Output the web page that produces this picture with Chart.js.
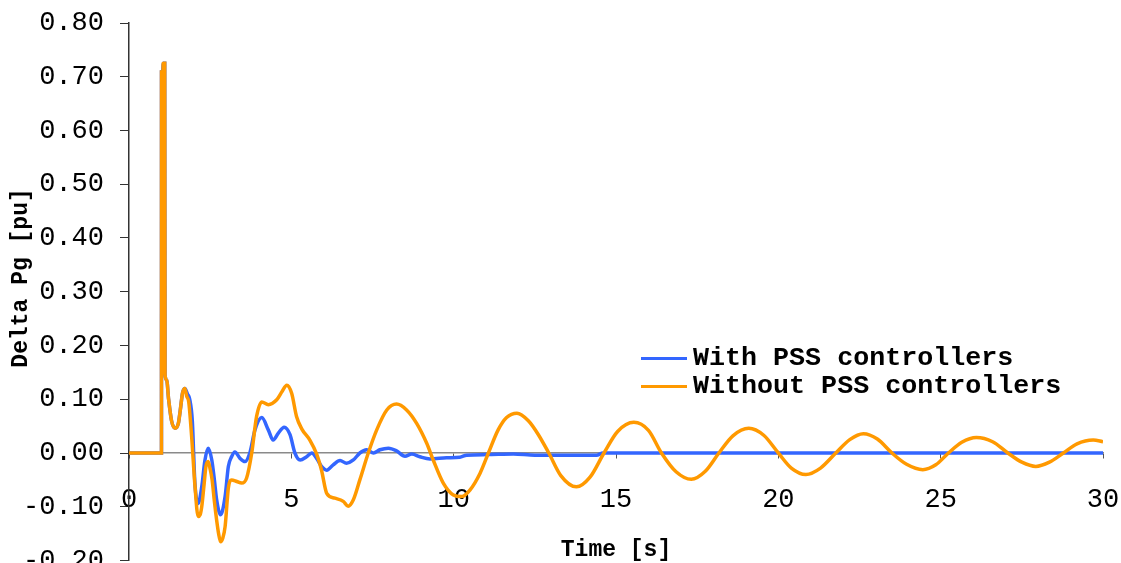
<!DOCTYPE html>
<html lang="en">
<head>
    <meta charset="UTF-8">
    <title>Delta Pg</title>
    <script src="https://cdn.jsdelivr.net/npm/chart.js"></script>
    <style>
        html, body {
            margin: 0;
            padding: 0;
            background: #fff;
            overflow: hidden;
        }
        #wrap {
            position: relative;
            width: 1121px;
            height: 600px;
        }
        #legend {
            position: absolute;
            left: 641px;
            top: 344px;
            font-family: 'Liberation Mono', 'Courier New', monospace;
            font-weight: bold;
            font-size: 26.7px;
            color: #000;
        }
        .row {
            display: flex;
            align-items: center;
            height: 28px;
            white-space: nowrap;
        }
        .swatch {
            display: inline-block;
            width: 46px;
            height: 3px;
            margin-right: 6px;
        }
    </style>
</head>
<body>
<div id="wrap">
    <canvas id="chart" width="1121" height="600"></canvas>
    <div id="legend"></div>
</div>

<script>
    const seriesNames = ['With PSS controllers', 'Without PSS controllers'];
    const seriesColors = ['#3366ff', '#ff9900'];

    const yTicks = [-0.2, -0.1, 0, 0.1, 0.2, 0.3, 0.4, 0.5, 0.6, 0.7, 0.8];
    const xTicks = [0, 5, 10, 15, 20, 25, 30];

    // with PSS
    const timeWith = [0, 1.0, 1.001, 1.04, 1.05, 1.10, 1.11, 1.16, 1.22, 1.31, 1.42, 1.52, 1.58, 1.65, 1.72,
        1.80, 1.87, 1.95, 2.03, 2.13, 2.24, 2.34, 2.44, 2.55, 2.63, 2.70, 2.82, 2.96, 3.06, 3.16, 3.26,
        3.42, 3.57, 3.73, 3.88, 4.09, 4.29, 4.44, 4.60, 4.78, 4.96, 5.11, 5.27, 5.47, 5.63, 5.78, 5.93,
        6.09, 6.29, 6.50, 6.70, 6.91, 7.11, 7.32, 7.53, 7.73, 7.99, 8.24, 8.50, 8.71, 8.96, 9.27, 9.78,
        10.19, 10.40, 11.02, 11.84, 12.5, 13.5, 14.4, 14.6, 30];
    const valuesWith = [0, 0, 0.709, 0.709, 0.725, 0.725, 0.145, 0.136, 0.10, 0.06, 0.046, 0.055, 0.08, 0.112, 0.12,
        0.11, 0.10, 0.06, -0.056, -0.094, -0.063, -0.013, 0.009, -0.013, -0.05, -0.087, -0.115, -0.081, -0.025, -0.007, 0.002,
        -0.01, -0.016, 0.002, 0.043, 0.066, 0.043, 0.024, 0.037, 0.048, 0.034, 0.0, -0.013, -0.007, 0, -0.01, -0.025,
        -0.032, -0.022, -0.014, -0.019, -0.013, 0, 0.006, 0, 0.006, 0.009, 0.004, -0.006, -0.002, -0.007, -0.011, -0.009,
        -0.008, -0.004, -0.003, -0.002, -0.004, -0.004, -0.004, 0, 0];

    // without PSS
    const timeWithout = [0, 1.0, 1.001, 1.03, 1.035, 1.045, 1.05, 1.10, 1.11, 1.16, 1.22, 1.31, 1.42, 1.52, 1.58, 1.65, 1.72,
        1.78, 1.84, 1.93, 2.03, 2.13, 2.19, 2.24, 2.31, 2.37, 2.44, 2.50, 2.56, 2.63, 2.70, 2.76, 2.82,
        2.89, 2.96, 3.06, 3.16, 3.32, 3.47, 3.62, 3.78, 3.93, 4.09, 4.29, 4.55, 4.72, 4.86, 5.01, 5.16,
        5.32, 5.57, 5.78, 5.93, 6.09, 6.34, 6.60, 6.75, 6.91, 7.11, 7.37, 7.63, 7.94, 8.24, 8.55, 8.86,
        9.17, 9.37, 9.68, 9.99, 10.25, 10.50, 10.81, 11.07, 11.37, 11.63, 11.95, 12.30, 12.60, 12.93, 13.30,
        13.78, 14.20, 14.63, 15.05, 15.55, 16.00, 16.40, 16.85, 17.32, 17.75, 18.17, 18.60, 19.09, 19.55,
        20.00, 20.40, 20.85, 21.30, 21.77, 22.20, 22.62, 23.05, 23.50, 23.95, 24.45, 24.85, 25.24, 25.65,
        26.10, 26.60, 27.07, 27.50, 27.93, 28.35, 28.78, 29.20, 29.70, 30.0];
    const valuesWithout = [0, 0, 0.709, 0.709, 0.15, 0.15, 0.725, 0.725, 0.145, 0.136, 0.10, 0.06, 0.046, 0.055, 0.08, 0.112, 0.12,
        0.105, 0.095, 0.03, -0.06, -0.118, -0.115, -0.10, -0.06, -0.025, -0.016, -0.03, -0.05, -0.09, -0.125, -0.15, -0.165,
        -0.158, -0.137, -0.065, -0.05, -0.053, -0.056, -0.047, 0, 0.068, 0.095, 0.09, 0.099, 0.115, 0.126, 0.111, 0.068,
        0.045, 0.024, -0.002, -0.032, -0.075, -0.084, -0.09, -0.099, -0.087, -0.05, 0, 0.043, 0.08, 0.091, 0.08, 0.055,
        0.018, -0.013, -0.056, -0.078, -0.081, -0.069, -0.038, 0, 0.043, 0.066, 0.074, 0.06, 0.035, 0, -0.042,
        -0.063, -0.045, 0, 0.04, 0.057, 0.042, 0, -0.035, -0.049, -0.034, 0, 0.032, 0.046, 0.033,
        0, -0.028, -0.040, -0.028, 0, 0.025, 0.036, 0.026, 0, -0.021, -0.031, -0.022, 0, 0.02,
        0.029, 0.021, 0, -0.017, -0.025, -0.017, 0, 0.017, 0.024, 0.021];

    function toPoints(xs, ys) {
        return xs.map((x, i) => ({ x: x, y: ys[i] }));
    }

    const tickFont = { family: "'Liberation Mono', 'Courier New', monospace", size: 27 };
    const titleFont = { family: "'Liberation Mono', 'Courier New', monospace", size: 23, weight: 'bold' };

    const ctx = document.getElementById('chart').getContext('2d');
    const chart = new Chart(ctx, {
        type: 'line',
        data: {
            datasets: [
                {
                    label: seriesNames[0],
                    data: toPoints(timeWith, valuesWith),
                    borderColor: seriesColors[0],
                    borderWidth: 3.5,
                    pointRadius: 0,
                    cubicInterpolationMode: 'monotone',
                    order: 2
                },
                {
                    label: seriesNames[1],
                    data: toPoints(timeWithout, valuesWithout),
                    borderColor: seriesColors[1],
                    borderWidth: 3.5,
                    pointRadius: 0,
                    cubicInterpolationMode: 'monotone',
                    order: 1
                }
            ]
        },
        options: {
            responsive: false,
            animation: false,
            devicePixelRatio: 1,
            layout: { padding: { top: 23, right: 18, bottom: 39.5, left: 0 } },
            plugins: {
                legend: { display: false },
                tooltip: { enabled: false }
            },
            scales: {
                x: {
                    type: 'linear',
                    position: { y: 0 },
                    min: 0,
                    max: 30,
                    afterBuildTicks: s => { s.ticks = xTicks.map(v => ({ value: v })); },
                    afterFit: s => {
                        s.height = 111;
                        s.paddingLeft = 0;
                        s.paddingRight = 0;
                    },
                    ticks: {
                        font: tickFont,
                        color: '#000',
                        padding: 26,
                        maxRotation: 0,
                        autoSkip: false,
                        callback: v => String(v)
                    },
                    grid: { drawOnChartArea: false, tickLength: 5, color: '#555' },
                    border: { color: '#8a8a8a', width: 1.5 },
                    title: {
                        display: true,
                        text: 'Time [s]',
                        font: titleFont,
                        color: '#000',
                        padding: { top: 19, bottom: 0 }
                    }
                },
                y: {
                    position: 'left',
                    min: -0.2,
                    max: 0.8,
                    afterBuildTicks: s => { s.ticks = yTicks.map(v => ({ value: v })); },
                    afterFit: s => {
                        s.width = 129;
                        s.paddingTop = 0;
                        s.paddingBottom = 0;
                    },
                    ticks: {
                        font: tickFont,
                        color: '#000',
                        padding: 16,
                        autoSkip: false,
                        callback: v => v.toFixed(2)
                    },
                    grid: { drawOnChartArea: false, tickLength: 9, color: '#333' },
                    border: { color: '#333', width: 1.5 },
                    title: {
                        display: true,
                        // leading spaces nudge the rotated title upward
                        text: '  Delta Pg [pu]',
                        font: titleFont,
                        color: '#000',
                        padding: { top: 7, bottom: 0 }
                    }
                }
            }
        }
    });

    // legend
    const legend = document.getElementById('legend');
    seriesNames.forEach((name, i) => {
        const row = document.createElement('div');
        row.className = 'row';
        const sw = document.createElement('span');
        sw.className = 'swatch';
        sw.style.background = seriesColors[i];
        row.appendChild(sw);
        row.appendChild(document.createTextNode(name));
        legend.appendChild(row);
    });
</script>
</body>
</html>
